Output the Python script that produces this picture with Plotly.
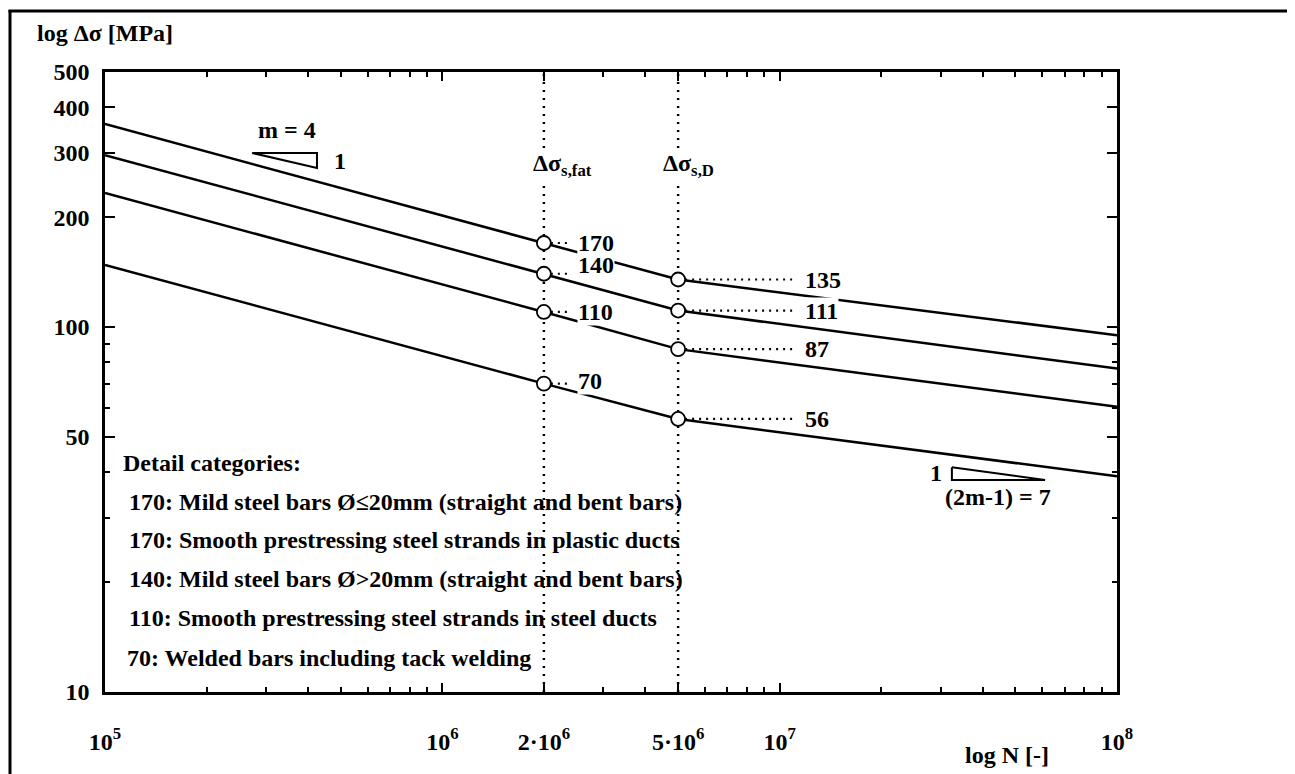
import numpy as np
import plotly.graph_objects as go

# ---------------- data ----------------
N_POINTS = [1e5, 2e6, 5e6, 1e8]
cat170 = [360, 170, 135, 95]
cat140 = [296, 140, 111, 77]
cat110 = [233, 110, 87, 60.5]
cat70 = [148, 70, 56, 39]
curves = [cat170, cat140, cat110, cat70]
N_FAT = 2e6
N_D = 5e6
fat_labels = ["170", "140", "110", "70"]
d_labels = ["135", "111", "87", "56"]
fat_label_shift = [0, 9, 0, 3]
d_label_shift = [0, 0, 0, 0]

x_tickvals = [1e5, 1e6, 2e6, 5e6, 1e7, 1e8]
x_ticktext = ["10<sup>5</sup>", "10<sup>6</sup>", "2·10<sup>6</sup>", "5·10<sup>6</sup>",
              "10<sup>7</sup>", "10<sup>8</sup>"]
x_minor = [2e5, 3e5, 4e5, 5e5, 6e5, 7e5, 8e5, 9e5, 3e6, 4e6, 6e6, 7e6, 8e6, 9e6,
           2e7, 3e7, 4e7, 5e7, 6e7, 7e7, 8e7, 9e7]
y_tickvals = [10, 50, 100, 200, 300, 400, 500]
y_ticktext = ["10", "50", "100", "200", "300", "400", "500"]
y_minor = [20, 30, 40, 60, 70, 80, 90]

# slope triangles
tri1_x = [2.73e5, 4.25e5, 4.25e5, 2.73e5]
tri1_y = [300, 300, 273, 300]
tri2_x = [3.24e7, 3.24e7, 6.12e7, 3.24e7]
tri2_y = [41.3, 38.1, 38.1, 41.3]

legend_lines = [
    "Detail categories:",
    "170: Mild steel bars Ø≤20mm (straight and bent bars)",
    "170: Smooth prestressing steel strands in plastic ducts",
    "140: Mild steel bars Ø>20mm (straight and bent bars)",
    "110: Smooth prestressing steel strands in steel ducts",
    "70: Welded bars including tack welding",
]

# ---------------- layout helpers ----------------
# page body has an 8px margin, so the figure is offset by 8px
OFF = 8
W, H = 1295 - OFF, 774 - OFF
PLOT_LEFT, PLOT_RIGHT, PLOT_TOP, PLOT_BOTTOM = 105, 1117, 72, 692  # in page pixels
L = PLOT_LEFT - OFF
T = PLOT_TOP - OFF
R = W - (PLOT_RIGHT - OFF)
B = H - (PLOT_BOTTOM - OFF)
PW, PH = PLOT_RIGHT - PLOT_LEFT, PLOT_BOTTOM - PLOT_TOP
FONT = "Liberation Serif, Times New Roman, serif"
FS = 24


def px(x):
    return (x - PLOT_LEFT) / PW


def py(y):
    return (PLOT_BOTTOM - y) / PH


def b(t):
    return "<b>" + t + "</b>"


fig = go.Figure()

# vertical dotted lines
for nv in (N_FAT, N_D):
    fig.add_trace(go.Scatter(x=[nv, nv], y=[10, 500], mode="lines",
                             line=dict(color="black", width=2.5, dash="2px,6px"),
                             hoverinfo="skip", showlegend=False))

# curves
for c in curves:
    fig.add_trace(go.Scatter(x=N_POINTS, y=c, mode="lines",
                             line=dict(color="black", width=2.5),
                             hoverinfo="skip", showlegend=False))

# leaders
for c in curves:
    fig.add_trace(go.Scatter(x=[N_FAT, N_FAT * 1.2], y=[c[1], c[1]], mode="lines",
                             line=dict(color="black", width=2.2, dash="2px,5px"),
                             hoverinfo="skip", showlegend=False))
    fig.add_trace(go.Scatter(x=[N_D, N_D * 2.2], y=[c[2], c[2]], mode="lines",
                             line=dict(color="black", width=2.2, dash="2px,5px"),
                             hoverinfo="skip", showlegend=False))

# circles
for c in curves:
    fig.add_trace(go.Scatter(x=[N_FAT, N_D], y=[c[1], c[2]], mode="markers",
                             marker=dict(symbol="circle", size=14, color="white",
                                         line=dict(color="black", width=1.8)),
                             hoverinfo="skip", showlegend=False))

# slope triangles
for tx, ty in ((tri1_x, tri1_y), (tri2_x, tri2_y)):
    fig.add_trace(go.Scatter(x=tx, y=ty, mode="lines",
                             line=dict(color="black", width=2),
                             hoverinfo="skip", showlegend=False))

ann = []
# value labels
for c, lab, sh in zip(curves, fat_labels, fat_label_shift):
    ann.append(dict(x=np.log10(N_FAT), y=np.log10(c[1]), xref="x", yref="y",
                    text=b(lab), showarrow=False, xanchor="left", yanchor="middle",
                    xshift=33, yshift=sh, bgcolor="white", borderpad=0,
                    font=dict(size=FS)))
for c, lab, sh in zip(curves, d_labels, d_label_shift):
    ann.append(dict(x=np.log10(N_D), y=np.log10(c[2]), xref="x", yref="y",
                    text=b(lab), showarrow=False, xanchor="left", yanchor="middle",
                    xshift=126, yshift=sh, bgcolor="white", borderpad=0,
                    font=dict(size=FS)))

# delta sigma labels
ann.append(dict(x=px(562), y=py(165), xref="paper", yref="paper",
                text=b("Δσ<sub>s,fat</sub>"), showarrow=False, bgcolor="white",
                xanchor="center", yanchor="middle", font=dict(size=FS)))
ann.append(dict(x=px(688), y=py(165), xref="paper", yref="paper",
                text=b("Δσ<sub>s,D</sub>"), showarrow=False, bgcolor="white",
                xanchor="center", yanchor="middle", font=dict(size=FS)))

# slope texts
ann.append(dict(x=px(287), y=py(130), xref="paper", yref="paper", text=b("m = 4"),
                showarrow=False, xanchor="center", yanchor="middle", font=dict(size=FS)))
ann.append(dict(x=px(340), y=py(161), xref="paper", yref="paper", text=b("1"),
                showarrow=False, xanchor="center", yanchor="middle", font=dict(size=FS)))
ann.append(dict(x=px(936), y=py(473), xref="paper", yref="paper", text=b("1"),
                showarrow=False, xanchor="center", yanchor="middle", font=dict(size=FS)))
ann.append(dict(x=px(998), y=py(497), xref="paper", yref="paper", text=b("(2m-1) = 7"),
                showarrow=False, xanchor="center", yanchor="middle", font=dict(size=FS)))

# legend text block
row_y = [463, 502, 540, 579, 618, 658]
row_x = [121, 127, 127, 127, 127, 125]
for t, yy, xx in zip(legend_lines, row_y, row_x):
    ann.append(dict(x=px(xx), y=py(yy), xref="paper", yref="paper", text=b(t),
                    showarrow=False, xanchor="left", yanchor="middle", font=dict(size=FS)))

# axis titles
ann.append(dict(x=px(35), y=py(33), xref="paper", yref="paper", text=b("log Δσ [MPa]"),
                showarrow=False, xanchor="left", yanchor="middle", font=dict(size=FS)))
ann.append(dict(x=px(1007), y=py(755), xref="paper", yref="paper", text=b("log N [-]"),
                showarrow=False, xanchor="center", yanchor="middle", font=dict(size=FS)))

# outer frame (left and top edges)
shapes = [
    dict(type="line", xref="paper", yref="paper", x0=px(10), x1=px(10), y0=py(10), y1=py(800),
         line=dict(color="black", width=3)),
    dict(type="line", xref="paper", yref="paper", x0=px(8.5), x1=px(1320), y0=py(11), y1=py(11),
         line=dict(color="black", width=3)),
]

fig.update_layout(
    width=W, height=H,
    margin=dict(l=L, r=R, t=T, b=B, autoexpand=False),
    paper_bgcolor="white", plot_bgcolor="white",
    font=dict(family=FONT, size=FS, color="black"),
    annotations=ann, shapes=shapes, showlegend=False,
)
fig.update_xaxes(type="log", range=[5, 8], showgrid=False, zeroline=False,
                 showline=True, linecolor="black", linewidth=2.5, mirror="allticks",
                 ticks="inside", ticklen=9, tickwidth=2, tickcolor="black",
                 tickmode="array", tickvals=x_tickvals, ticktext=[b(t) for t in x_ticktext],
                 ticklabelstandoff=26,
                 minor=dict(ticks="inside", ticklen=5, tickwidth=1.5, tickcolor="black",
                            tickmode="array", tickvals=x_minor, showgrid=False))
fig.update_yaxes(type="log", range=[1, np.log10(500)], showgrid=False, zeroline=False,
                 showline=True, linecolor="black", linewidth=2.5, mirror="allticks",
                 ticks="inside", ticklen=10, tickwidth=2, tickcolor="black",
                 tickmode="array", tickvals=y_tickvals, ticktext=[b(t) for t in y_ticktext],
                 ticklabelstandoff=8,
                 minor=dict(ticks="inside", ticklen=5, tickwidth=1.5, tickcolor="black",
                            tickmode="array", tickvals=y_minor, showgrid=False))

fig.write_html("out.html")
